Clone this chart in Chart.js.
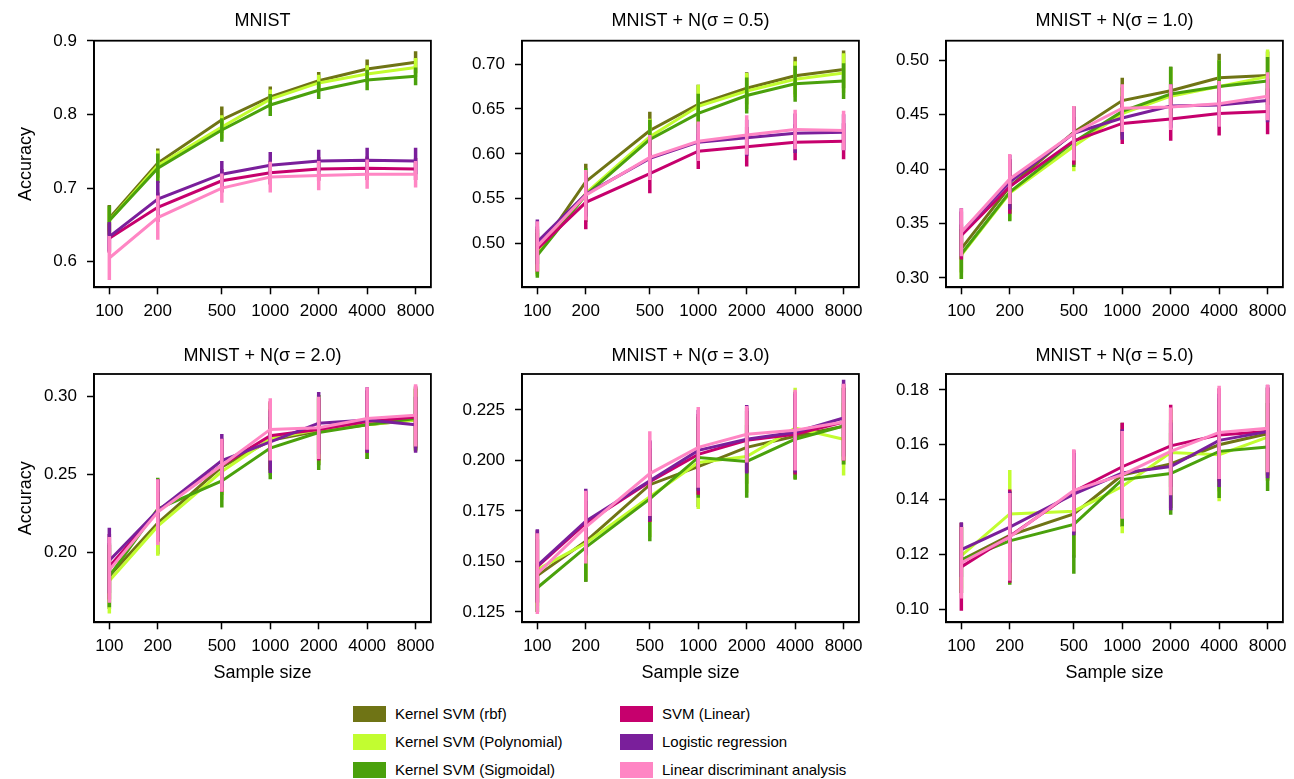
<!DOCTYPE html>
<html><head><meta charset="utf-8">
<script src="https://cdn.jsdelivr.net/npm/chart.js@4/dist/chart.umd.min.js"></script>
<style>
html,body{margin:0;padding:0;background:#fff;overflow:hidden;width:1294px;height:779px;position:relative;}
canvas{position:absolute;}
.sw{position:absolute;width:33px;height:16px;}
.lt{position:absolute;font:15px 'Liberation Sans',Arial,Helvetica,sans-serif;color:#000;line-height:18px;white-space:nowrap;}
</style></head><body>
<script>
// ---------------- DATA ----------------
const sampleSizes = [100, 200, 500, 1000, 2000, 4000, 8000];
const methods = ['Kernel SVM (rbf)', 'Kernel SVM (Polynomial)', 'Kernel SVM (Sigmoidal)',
                 'SVM (Linear)', 'Logistic regression', 'Linear discriminant analysis'];
const panelTitles = ['MNIST', 'MNIST + N(σ = 0.5)', 'MNIST + N(σ = 1.0)',
                     'MNIST + N(σ = 2.0)', 'MNIST + N(σ = 3.0)', 'MNIST + N(σ = 5.0)'];

// accuracy per method (rows in order of `methods`) for each panel
const accMNIST = [
  [0.659, 0.734, 0.793, 0.824, 0.846, 0.862, 0.871],
  [0.656, 0.731, 0.783, 0.821, 0.843, 0.855, 0.864],
  [0.656, 0.727, 0.779, 0.813, 0.833, 0.847, 0.852],
  [0.632, 0.674, 0.710, 0.721, 0.726, 0.727, 0.726],
  [0.634, 0.685, 0.719, 0.731, 0.737, 0.738, 0.737],
  [0.605, 0.660, 0.700, 0.715, 0.717, 0.719, 0.719]
];
const errMNIST = [
  [0.018, 0.020, 0.018, 0.014, 0.012, 0.013, 0.015],
  [0.018, 0.020, 0.016, 0.013, 0.011, 0.012, 0.013],
  [0.020, 0.020, 0.016, 0.015, 0.012, 0.014, 0.012],
  [0.020, 0.020, 0.016, 0.016, 0.016, 0.016, 0.015],
  [0.020, 0.025, 0.018, 0.018, 0.015, 0.017, 0.018],
  [0.030, 0.030, 0.020, 0.021, 0.020, 0.020, 0.018]
];
const accS05 = [
  [0.491, 0.569, 0.626, 0.655, 0.673, 0.687, 0.694],
  [0.489, 0.556, 0.619, 0.653, 0.670, 0.683, 0.690],
  [0.487, 0.554, 0.616, 0.645, 0.665, 0.678, 0.681],
  [0.494, 0.546, 0.578, 0.603, 0.608, 0.613, 0.614],
  [0.502, 0.555, 0.595, 0.613, 0.618, 0.623, 0.624],
  [0.497, 0.554, 0.596, 0.614, 0.621, 0.627, 0.626]
];
const errS05 = [
  [0.025, 0.020, 0.021, 0.022, 0.018, 0.021, 0.021],
  [0.025, 0.025, 0.020, 0.024, 0.020, 0.020, 0.022],
  [0.025, 0.030, 0.022, 0.022, 0.020, 0.020, 0.020],
  [0.025, 0.030, 0.022, 0.020, 0.022, 0.020, 0.020],
  [0.025, 0.025, 0.022, 0.020, 0.020, 0.022, 0.020],
  [0.028, 0.028, 0.025, 0.022, 0.022, 0.022, 0.022]
];
const accS10 = [
  [0.327, 0.384, 0.434, 0.463, 0.472, 0.484, 0.486],
  [0.321, 0.378, 0.421, 0.451, 0.467, 0.476, 0.485],
  [0.322, 0.379, 0.425, 0.453, 0.469, 0.476, 0.481],
  [0.339, 0.384, 0.426, 0.442, 0.446, 0.451, 0.453],
  [0.342, 0.388, 0.433, 0.447, 0.458, 0.459, 0.463],
  [0.342, 0.391, 0.433, 0.456, 0.457, 0.460, 0.467]
];
const errS10 = [
  [0.022, 0.025, 0.024, 0.021, 0.022, 0.022, 0.022],
  [0.022, 0.025, 0.023, 0.022, 0.024, 0.024, 0.025],
  [0.023, 0.027, 0.023, 0.022, 0.025, 0.024, 0.022],
  [0.022, 0.025, 0.022, 0.019, 0.020, 0.020, 0.021],
  [0.022, 0.025, 0.024, 0.020, 0.020, 0.020, 0.020],
  [0.022, 0.023, 0.025, 0.022, 0.021, 0.021, 0.022]
];
const accS20 = [
  [0.185, 0.219, 0.255, 0.272, 0.278, 0.282, 0.285],
  [0.182, 0.217, 0.252, 0.273, 0.279, 0.282, 0.285],
  [0.185, 0.228, 0.246, 0.267, 0.277, 0.282, 0.286],
  [0.191, 0.227, 0.256, 0.275, 0.279, 0.284, 0.287],
  [0.195, 0.227, 0.259, 0.271, 0.283, 0.285, 0.282],
  [0.189, 0.226, 0.256, 0.279, 0.280, 0.286, 0.288]
];
const errS20 = [
  [0.021, 0.020, 0.018, 0.020, 0.022, 0.022, 0.020],
  [0.021, 0.019, 0.018, 0.023, 0.022, 0.021, 0.020],
  [0.020, 0.020, 0.017, 0.020, 0.024, 0.022, 0.020],
  [0.021, 0.020, 0.017, 0.022, 0.020, 0.020, 0.020],
  [0.021, 0.020, 0.017, 0.020, 0.020, 0.021, 0.018],
  [0.021, 0.021, 0.017, 0.020, 0.020, 0.020, 0.020]
];
const accS30 = [
  [0.143, 0.160, 0.188, 0.197, 0.2065, 0.212, 0.217],
  [0.146, 0.159, 0.182, 0.199, 0.202, 0.216, 0.2105],
  [0.137, 0.157, 0.181, 0.2015, 0.1995, 0.2105, 0.217],
  [0.1475, 0.169, 0.1895, 0.203, 0.210, 0.213, 0.219],
  [0.148, 0.170, 0.190, 0.205, 0.2105, 0.214, 0.221],
  [0.144, 0.167, 0.1935, 0.2065, 0.213, 0.215, 0.219]
];
const errS30 = [
  [0.018, 0.020, 0.018, 0.020, 0.018, 0.021, 0.019],
  [0.018, 0.018, 0.020, 0.023, 0.018, 0.020, 0.018],
  [0.012, 0.017, 0.021, 0.020, 0.018, 0.020, 0.019],
  [0.018, 0.016, 0.020, 0.020, 0.016, 0.020, 0.019],
  [0.018, 0.016, 0.020, 0.020, 0.017, 0.020, 0.019],
  [0.020, 0.018, 0.021, 0.020, 0.014, 0.020, 0.019]
];
const accS50 = [
  [0.118, 0.127, 0.1348, 0.149, 0.153, 0.160, 0.164],
  [0.1196, 0.1348, 0.1358, 0.1448, 0.1572, 0.1564, 0.1628],
  [0.118, 0.125, 0.131, 0.1473, 0.1495, 0.1576, 0.1592],
  [0.1155, 0.1267, 0.143, 0.152, 0.1596, 0.1636, 0.1648],
  [0.1218, 0.130, 0.142, 0.1497, 0.1521, 0.1616, 0.1648],
  [0.117, 0.1264, 0.1434, 0.149, 0.1576, 0.1645, 0.166]
];
const errS50 = [
  [0.012, 0.016, 0.016, 0.019, 0.016, 0.017, 0.017],
  [0.012, 0.016, 0.016, 0.017, 0.016, 0.017, 0.016],
  [0.012, 0.016, 0.018, 0.017, 0.015, 0.017, 0.016],
  [0.016, 0.017, 0.015, 0.016, 0.015, 0.017, 0.016],
  [0.010, 0.013, 0.015, 0.016, 0.016, 0.017, 0.017],
  [0.013, 0.016, 0.015, 0.016, 0.016, 0.017, 0.016]
];

// y tick values per panel
const yTicksMNIST = [0.6, 0.7, 0.8, 0.9];
const yTicksS05 = [0.50, 0.55, 0.60, 0.65, 0.70];
const yTicksS10 = [0.30, 0.35, 0.40, 0.45, 0.50];
const yTicksS20 = [0.20, 0.25, 0.30];
const yTicksS30 = [0.125, 0.150, 0.175, 0.200, 0.225];
const yTicksS50 = [0.10, 0.12, 0.14, 0.16, 0.18];
const yDecimals = [1, 2, 2, 2, 3, 2];
const yRanges = [[0.5652, 0.9004], [0.4514, 0.726], [0.2914, 0.518], [0.1554, 0.3145], [0.1199, 0.2428], [0.0953, 0.1858]];

// ---------------- STYLE / LAYOUT ----------------
const colors = ['#6f7415', '#c2fd30', '#4aa10c', '#c6006d', '#7a1f9b', '#ff86c4'];
const FONT = "'Liberation Sans', Arial, Helvetica, sans-serif";
const panels = [
  {acc: accMNIST, err: errMNIST, yt: yTicksMNIST},
  {acc: accS05, err: errS05, yt: yTicksS05},
  {acc: accS10, err: errS10, yt: yTicksS10},
  {acc: accS20, err: errS20, yt: yTicksS20},
  {acc: accS30, err: errS30, yt: yTicksS30},
  {acc: accS50, err: errS50, yt: yTicksS50}
];
const plotLefts = [94, 521.7, 946];
const plotWidth = 341.3;
const rowGeom = [
  {top: 0, height: 330, titlePad: {top: 9.9, bottom: 9.2}, xH: 42.7},
  {top: 330, height: 360, titlePad: {top: 15.2, bottom: 7.2}, xH: 67.7}
];
const YAXW = 94, RPAD = 7;

const errPlugin = {
  id: 'errbars',
  afterDatasetDraw(chart, args) {
    const ds = chart.data.datasets[args.index];
    if (!ds.errors) return;
    const {ctx, chartArea: a, scales} = chart;
    ctx.save();
    ctx.beginPath();
    ctx.rect(a.left, a.top, a.right - a.left, a.bottom - a.top);
    ctx.clip();
    ctx.strokeStyle = ds.borderColor;
    ctx.lineWidth = 3.5;
    ctx.lineCap = 'butt';
    ds.data.forEach((p, i) => {
      const px = scales.x.getPixelForValue(p.x);
      ctx.beginPath();
      ctx.moveTo(px, scales.y.getPixelForValue(p.y - ds.errors[i]));
      ctx.lineTo(px, scales.y.getPixelForValue(p.y + ds.errors[i]));
      ctx.stroke();
    });
    ctx.restore();
  }
};
const framePlugin = {
  id: 'frame',
  afterDraw(chart) {
    const {ctx, chartArea: a} = chart;
    ctx.save();
    ctx.strokeStyle = '#000';
    ctx.lineWidth = 1.8;
    ctx.strokeRect(a.left, a.top, a.right - a.left, a.bottom - a.top);
    ctx.restore();
  }
};

panels.forEach((p, idx) => {
  const row = Math.floor(idx / 3), col = idx % 3;
  const g = rowGeom[row];
  const left = plotLefts[col] - YAXW;
  const width = plotLefts[col] + plotWidth + RPAD - left;
  const cv = document.createElement('canvas');
  cv.width = Math.round(width); cv.height = g.height;
  cv.style.left = left + 'px'; cv.style.top = g.top + 'px';
  cv.style.width = Math.round(width) + 'px'; cv.style.height = g.height + 'px';
  document.body.appendChild(cv);

  const datasets = methods.map((m, k) => ({
    label: m,
    data: sampleSizes.map((s, i) => ({x: s, y: p.acc[k][i]})),
    errors: p.err[k],
    borderColor: colors[k],
    backgroundColor: colors[k],
    borderWidth: 3,
    pointRadius: 0,
    tension: 0,
    fill: false,
    order: methods.length - k
  }));
  const dec = yDecimals[idx];
  new Chart(cv, {
    type: 'line',
    data: {datasets},
    plugins: [errPlugin, framePlugin],
    options: {
      responsive: false,
      animation: false,
      devicePixelRatio: 1,
      layout: {padding: {left: 0, top: 0, right: RPAD, bottom: 0}},
      plugins: {
        legend: {display: false},
        tooltip: {enabled: false},
        title: {
          display: true, text: panelTitles[idx], fullSize: false,
          color: '#000', font: {family: FONT, size: 18, weight: 'normal'},
          padding: g.titlePad
        }
      },
      scales: {
        x: {
          type: 'logarithmic', min: 80.3, max: 9961,
          afterBuildTicks: s => { s.ticks = sampleSizes.map(v => ({value: v})); },
          afterFit: s => { s.height = g.xH; },
          ticks: {color: '#000', font: {family: FONT, size: 17}, padding: 7, maxRotation: 0, autoSkip: false,
                  callback: v => String(v)},
          grid: {display: true, drawOnChartArea: false, drawTicks: true, tickLength: 7, tickColor: '#000', tickWidth: 1.5},
          border: {display: true, color: '#000', width: 1.8},
          title: {display: row === 1, text: 'Sample size', color: '#000',
                  font: {family: FONT, size: 18}, padding: {top: 0, bottom: 5.9}}
        },
        y: {
          type: 'linear', min: yRanges[idx][0], max: yRanges[idx][1],
          afterBuildTicks: s => { s.ticks = p.yt.map(v => ({value: v})); },
          afterFit: s => { s.width = YAXW; },
          ticks: {color: '#000', font: {family: FONT, size: 17}, padding: 10, autoSkip: false,
                  callback: v => Number(v).toFixed(dec)},
          grid: {display: true, drawOnChartArea: false, drawTicks: true, tickLength: 7, tickColor: '#000', tickWidth: 1.5},
          border: {display: true, color: '#000', width: 1.8},
          title: {display: col === 0, text: 'Accuracy', color: '#000',
                  font: {family: FONT, size: 18}, padding: {top: 15.2, bottom: 0}}
        }
      }
    }
  });
});

// legend (HTML)
const legCols = [{sw: 353, tx: 395}, {sw: 620, tx: 662}];
const legRows = [714, 742, 770];
methods.forEach((m, k) => {
  const c = legCols[Math.floor(k / 3)], yc = legRows[k % 3];
  const sw = document.createElement('div');
  sw.className = 'sw'; sw.style.left = c.sw + 'px'; sw.style.top = (yc - 8) + 'px';
  sw.style.background = colors[k];
  document.body.appendChild(sw);
  const t = document.createElement('div');
  t.className = 'lt'; t.style.left = c.tx + 'px'; t.style.top = (yc - 9) + 'px';
  t.textContent = m;
  document.body.appendChild(t);
});
</script>
</body></html>
